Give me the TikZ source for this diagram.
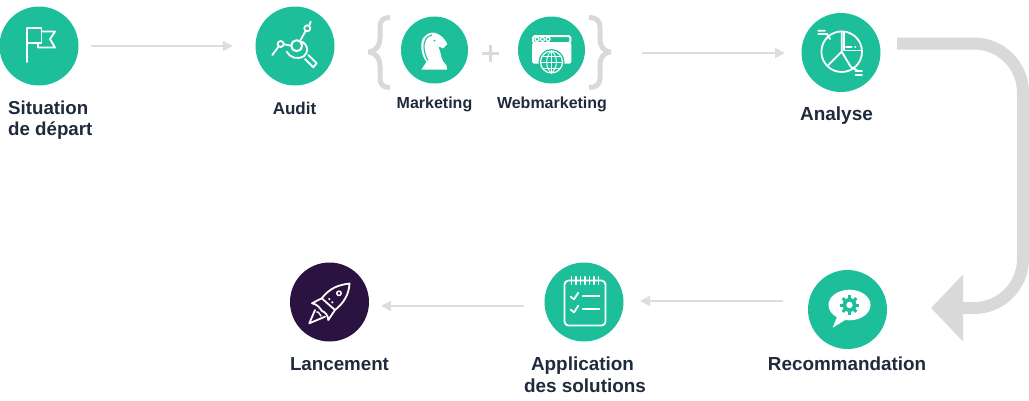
\documentclass[tikz,border=0pt]{standalone}
\usepackage{fontspec}
\setmainfont{Liberation Sans}
\usetikzlibrary{arrows.meta}
\definecolor{teal1}{RGB}{29,191,155}
\definecolor{purp}{RGB}{42,18,65}
\definecolor{grayb}{RGB}{217,217,217}
\definecolor{grayt}{RGB}{221,221,221}
\definecolor{ink}{RGB}{31,42,60}
\tikzset{
  disc/.style={circle,fill=teal1,inner sep=0pt,minimum size=79pt},
  smalldisc/.style={disc,minimum size=67pt},
  lbl/.style={inner sep=0pt,text=ink,font=\bfseries,anchor=base},
  thin arrow/.style={draw=grayt,line width=1.8pt,-{Triangle[length=10pt,width=10pt]}},
  bracest/.style={draw=grayb,line width=5pt,line cap=butt,line join=bevel},
  ico/.style={draw=white,line width=1.8pt,line cap=round,line join=round}
}
\newcommand{\fs}[1]{\fontsize{#1}{22}\selectfont}
\begin{document}
\begin{tikzpicture}[x=1pt,y=-1pt]
\useasboundingbox (0,0) rectangle (1029,400);
% discs
\node[disc] (sit) at (39,46) {};
\node[disc] (aud) at (295,46) {};
\node[smalldisc] (mkt) at (434.5,50) {};
\node[smalldisc] (web) at (551.5,50) {};
\node[disc] (ana) at (841,52.5) {};
\node[disc] (rec) at (847.5,309.5) {};
\node[disc] (app) at (584,302) {};
\node[disc,fill=purp] (lan) at (329.5,302) {};
% labels
\node[lbl,anchor=base west] (t1) at (8,114) {\fs{18.7}Situation};
\node[lbl,anchor=base west] (t1b) at (8,135) {\fs{18.7}de départ};
\node[lbl] (t2) at (294.5,114) {\fs{17}Audit};
\node[lbl] (t3) at (434.5,108) {\fs{16}Marketing};
\node[lbl] (t4) at (552,108.5) {\fs{16}Webmarketing};
\node[lbl] (t5) at (836.5,120) {\fs{19}Analyse};
\node[lbl] (t6) at (847,370) {\fs{18.85}Recommandation};
\node[lbl] (t7) at (582.5,370) {\fs{18.9}Application};
\node[lbl] (t7b) at (585,392) {\fs{18.9}des solutions};
\node[lbl] (t8) at (339.5,370) {\fs{18.75}Lancement};
% thin arrows
\coordinate (a2s) at (642,53);
\coordinate (a2e) at (785,53);
\coordinate (a3s) at (783,301);
\coordinate (a3e) at (640,301);
\coordinate (a4s) at (524,306);
\coordinate (a4e) at (381,306);
\draw[thin arrow,shorten <=12.5pt,shorten >=22.5pt] (sit) -- (aud);
\draw[thin arrow] (a2s) -- (a2e);
\draw[thin arrow] (a3s) -- (a3e);
\draw[thin arrow] (a4s) -- (a4e);
% big arrow
\coordinate (bs) at (897,43.5);
\coordinate (b1) at (1023,43.5);
\coordinate (b2) at (1023,308);
\coordinate (be) at (931,308);
\draw[draw=grayb,line width=12pt,rounded corners=49pt,-{Triangle[length=32pt,width=65pt]}] (bs) -- (b1) -- (b2) -- (be);
% braces and plus
\draw[bracest] (390,17.5) .. controls (383,17.5) and (380,20) .. (380,28) -- (380,38) .. controls (380,46) and (376,51) .. (368.5,52) .. controls (376,53) and (380,58) .. (380,66) -- (380,77) .. controls (380,85) and (383,87.5) .. (390,87.5);
\draw[bracest] (589,17.5) .. controls (596,17.5) and (600,20) .. (600,28) -- (600,38) .. controls (600,46) and (603,51) .. (610.5,52) .. controls (603,53) and (600,58) .. (600,66) -- (600,77) .. controls (600,85) and (596,87.5) .. (589,87.5);
\draw[draw=grayb,line width=3pt] (481.5,53.5) -- (498.5,53.5) (490,45) -- (490,62);
% flag
\draw[ico] (26.7,62) -- (26.7,28) -- (41.5,28) -- (41.5,43) -- (26.7,43);
\draw[ico] (41.5,31.5) -- (55,31.5) -- (50,39) -- (55,47.5) -- (38,47.5) -- (38,43);
% audit
\draw[ico,line width=2pt] (296.7,45.7) circle (5.5);
\draw[ico] (280.7,44) circle (3);
\draw[ico] (307.3,28.3) circle (3);
\draw[ico] (272.3,55) -- (278.6,46.5) (284,44.3) -- (291.2,45.7) (300,41) -- (305.5,31.2) (309.3,25.5) -- (310.7,21.7);
\draw[ico] (302.3,41.7) .. controls (308,45) and (309,52) .. (304,56) .. controls (298,60) and (290,58) .. (286.7,51.7);
\draw[ico] (308.3,55) -- (316.7,63.3) -- (313.3,67.3) -- (305,59);
% knight
\fill[white] (421.5,69.5) -- (447,69.5) -- (446.5,65.5) .. controls (443,62) and (441,58) .. (440.5,53) .. controls (440,50) and (438.5,48) .. (438.3,46.5) -- (443.3,48.3) -- (447.3,44) .. controls (445,39) and (441,35) .. (436.7,33.5) -- (433.3,32.5) .. controls (425,33) and (420.5,39) .. (421.3,48) .. controls (421.8,54) and (424,59) .. (426.5,62) .. controls (425,65) and (423,66) .. (421.5,69.5) -- cycle;
\draw[teal1,line width=1.1pt] (432,35) .. controls (426.5,36) and (423.5,41) .. (424,48) .. controls (424.5,53) and (426,57) .. (428,60.5);
\fill[teal1] (434.5,40.7) circle (1);
% window
\draw[white,line width=2pt,rounded corners=1.5pt] (533.2,36) rectangle (570.3,43);
\fill[white,rounded corners=1.5pt] (532.2,42.5) rectangle (571.3,63.5);
\foreach \x in {537,542.5,548}{\draw[white,line width=1.3pt] (\x,39.3) circle (2);}
\fill[teal1] (551.5,62) circle (13);
\draw[white,line width=1.2pt] (551.5,62) circle (11);
\draw[white,line width=.9pt] (551.5,51) -- (551.5,73) (540.5,62) -- (562.5,62) (542.5,56) -- (560.5,56) (542.5,68) -- (560.5,68);
\draw[white,line width=.9pt] (551.5,51) .. controls (545,56) and (545,68) .. (551.5,73) .. controls (558,68) and (558,56) .. (551.5,51);
% analyse
\draw[ico] (841.7,51.7) circle (20.3);
\draw[ico] (841.7,51.7) -- (841.7,31.5) (841.7,51.7) -- (828.3,65) (841.7,51.7) -- (850.7,66.7) -- (857.3,70.5);
\draw[ico] (843.7,31.5) -- (843.7,50.5) -- (862,50.5);
\draw[ico] (846,47) -- (851.7,47) (855,47) -- (855.4,47);
\draw[ico] (818.3,30.7) -- (825,30.7) (818.3,34) -- (827,34) -- (830,39);
\draw[ico] (855.5,71) -- (862,71) (855.5,74.7) -- (862,74.7);
% speech bubble and gear
\fill[white] (849.5,305) ellipse (21 and 15.3);
\fill[white] (837,317) -- (832.7,327.7) -- (846,319.5) -- cycle;
\fill[teal1] (849.5,305) circle (7);
\foreach \a in {0,45,...,315}{\draw[teal1,line width=3pt] (849.5,305) ++(\a:5) -- ++(\a:4.6);}
\fill[white] (849.5,305) circle (3.2);
% checklist
\draw[ico,rounded corners=4pt] (564.5,280.5) rectangle (605.5,325.5);
\foreach \x in {571.7,576.1,580.6,585,589.4,593.9,598.3}{\draw[ico,line width=1.3pt] (\x,276.7) -- (\x,284.3);}
\draw[ico] (570.7,296.7) -- (574,299.3) -- (578.3,292.7);
\draw[ico] (570.7,309.7) -- (574,312.3) -- (578.3,305.7);
\draw[ico] (582.7,296.3) -- (599.3,296.3) (582.7,309.3) -- (599.3,309.3);
% rocket
\draw[ico] (321.7,298.3) .. controls (330,288) and (338,285) .. (349.5,283.5) .. controls (349,294) and (344,303) .. (335,310) -- cycle;
\draw[ico,line width=1.5pt] (339,293.3) circle (2.2);
\fill[white] (329.3,299) circle (1.2) (332.3,302.3) circle (1.2);
\draw[ico] (321.7,298.3) -- (312,303.3) .. controls (317,304) and (320,308) .. (322,311) (335,310) -- (328.3,320) .. controls (328,315) and (325,312) .. (322,311);
\draw[ico] (315,310) -- (309.3,323.3) -- (325,316.7);
\draw[ico,line width=1.4pt] (316.5,312) .. controls (319,311) and (319.5,315) .. (321,316);
\end{tikzpicture}
\end{document}
